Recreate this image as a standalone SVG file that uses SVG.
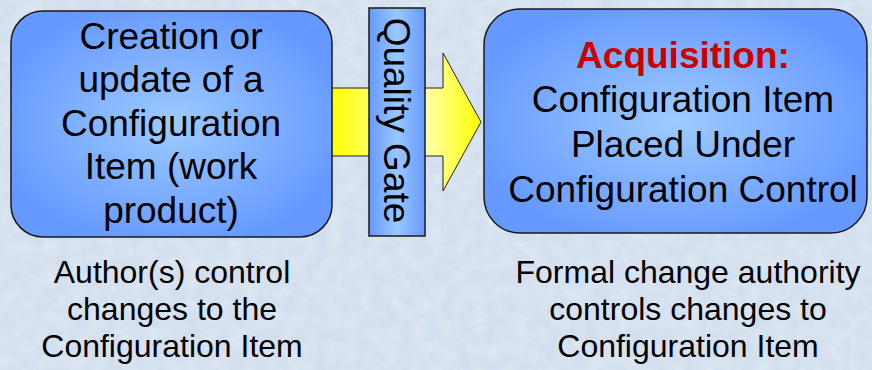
<svg xmlns="http://www.w3.org/2000/svg" width="872" height="370" viewBox="0 0 872 370">
<defs>
<style>
.t{font-family:"Liberation Sans",Arial,sans-serif;font-size:37px;fill:#000;text-anchor:middle}
.b{font-family:"Liberation Sans",Arial,sans-serif;font-size:32px;fill:#000;text-anchor:middle}
.box{stroke:#1a1a1a;stroke-width:1.5}
</style>
<radialGradient id="gBox" cx="50%" cy="50%" r="55%">
<stop offset="0" stop-color="#9DCBFF"/>
<stop offset="1" stop-color="#6699FF"/>
</radialGradient>
<linearGradient id="gGate" x1="0" y1="0" x2="1" y2="0">
<stop offset="0" stop-color="#6699FF"/>
<stop offset="0.5" stop-color="#99C8FF"/>
<stop offset="1" stop-color="#6699FF"/>
</linearGradient>
<linearGradient id="gArrow" gradientUnits="userSpaceOnUse" x1="332" y1="0" x2="481" y2="0">
<stop offset="0" stop-color="#FFFF00"/>
<stop offset="0.55" stop-color="#FFFFCC"/>
<stop offset="1" stop-color="#FFFF00"/>
</linearGradient>
<filter id="tex" x="0" y="0" width="100%" height="100%">
<feTurbulence type="fractalNoise" baseFrequency="0.07" numOctaves="3" seed="4"/>
<feColorMatrix type="matrix" values="0 0 0 0 1  0 0 0 0 1  0 0 0 0 1  0 0 0 0.9 -0.3"/>
</filter>
</defs>
<rect width="872" height="370" fill="#D3DFEE"/>
<rect width="872" height="370" filter="url(#tex)" opacity="0.55"/>

<g id="connectors">
<polygon points="320,88 443,88 443,53 481,122 443,191 443,156 320,156" fill="url(#gArrow)" stroke="#222" stroke-width="1"/>
</g>

<g id="node-creation">
<rect class="box" x="11" y="11" width="321" height="226" rx="32" ry="32" fill="url(#gBox)"/>
<text class="t" x="171" y="48.5">Creation or</text>
<text class="t" x="171" y="92">update of a</text>
<text class="t" x="171" y="135.5">Configuration</text>
<text class="t" x="171" y="179">Item (work</text>
<text class="t" x="171" y="222.5">product)</text>
</g>

<g id="node-gate">
<rect x="369" y="8" width="56" height="228" fill="url(#gGate)" stroke="#1a1a1a" stroke-width="1.5"/>
<text class="t" transform="translate(384,120.5) rotate(90)" x="0" y="0">Quality Gate</text>
</g>

<g id="node-acquisition">
<rect class="box" x="484" y="9" width="383" height="224" rx="36" ry="36" fill="url(#gBox)"/>
<text class="t" x="683" y="68" style="font-weight:bold;fill:#CC0000">Acquisition:</text>
<text class="t" x="683" y="112">Configuration Item</text>
<text class="t" x="683" y="157">Placed Under</text>
<text class="t" x="683" y="202">Configuration Control</text>
</g>

<g id="label-left">
<text class="b" x="172" y="283">Author(s) control</text>
<text class="b" x="172" y="320">changes to the</text>
<text class="b" x="172" y="357">Configuration Item</text>
</g>

<g id="label-right">
<text class="b" x="688" y="283">Formal change authority</text>
<text class="b" x="688" y="320">controls changes to</text>
<text class="b" x="688" y="357">Configuration Item</text>
</g>
</svg>
